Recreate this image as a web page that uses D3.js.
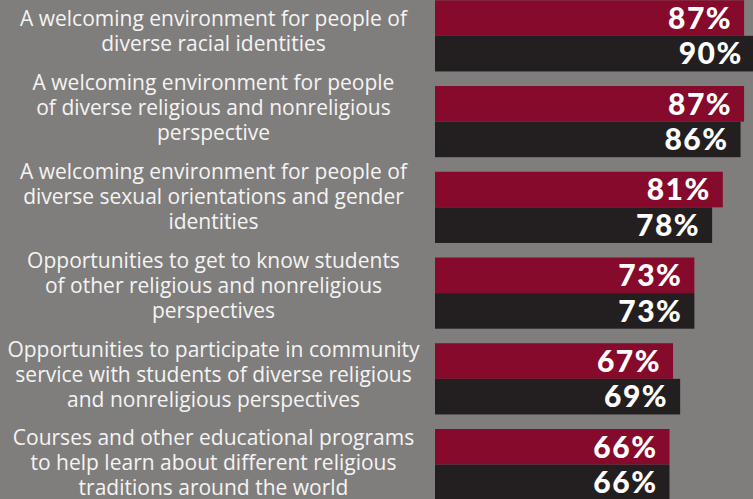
<!DOCTYPE html>
<html>
<head>
<meta charset="utf-8">
<script src="https://cdn.jsdelivr.net/npm/d3@7"></script>
<style>
  html, body { margin: 0; padding: 0; background: #807e7c; overflow: hidden; }
  svg { display: block; }
</style>
</head>
<body>
<div id="chart"></div>
<script>
// categories, already broken into the lines used in the picture
const categories = [
    ["A welcoming environment for people of", "diverse racial identities"],
    ["A welcoming environment for people", "of diverse religious and nonreligious", "perspective"],
    ["A welcoming environment for people of", "diverse sexual orientations and gender", "identities"],
    ["Opportunities to get to know students", "of other religious and nonreligious", "perspectives"],
    ["Opportunities to participate in community", "service with students of diverse religious", "and nonreligious perspectives"],
    ["Courses and other educational programs", "to help learn about different religious", "traditions around the world"]
];
const seriesNames = ["first", "second"];
const firstValues = [87, 87, 81, 73, 67, 66];
const secondValues = [90, 86, 78, 73, 69, 66];

const width = 753;
const height = 499;
const colors = { first: "#850a2b", second: "#231f20" };

const keys = categories.map((c, i) => i);

const svg = d3.select("#chart")
    .append("svg")
    .attr("width", width)
    .attr("height", height);

svg.append("rect")
    .attr("width", width)
    .attr("height", height)
    .attr("fill", "#807e7c");

// x scale: bars start at the left edge of the bar area
const x = d3.scaleLinear()
    .domain([0, 100])
    .range([435, 790.3]);

// one band per question, two sub bands per series
const y = d3.scaleBand()
    .domain(keys)
    .range([0.25, 500.2])
    .paddingInner(0.1697);

const ySub = d3.scaleBand()
    .domain(seriesNames)
    .range([0, y.bandwidth()]);

// labels sit bottom aligned in their slot
const labelY = d3.scalePoint()
    .domain(keys)
    .range([44, 488]);

const rows = keys.map(i => ({
    i: i,
    lines: categories[i],
    values: [
        { key: "first", value: firstValues[i] },
        { key: "second", value: secondValues[i] }
    ]
}));

const group = svg.append("g")
    .selectAll("g")
    .data(rows)
    .enter().append("g")
    .attr("transform", d => `translate(0,${y(d.i)})`);

group.selectAll("rect")
    .data(d => d.values)
    .enter().append("rect")
    .attr("x", x(0))
    .attr("y", d => ySub(d.key))
    .attr("width", d => x(d.value) - x(0))
    .attr("height", ySub.bandwidth())
    .attr("fill", d => colors[d.key]);

group.selectAll("text.value")
    .data(d => d.values)
    .enter().append("text")
    .attr("class", "value")
    .attr("x", d => x(d.value) - 12)
    .attr("y", d => ySub(d.key) + ySub.bandwidth() / 2)
    .attr("dy", "0.36em")
    .attr("text-anchor", "end")
    .attr("fill", "#ffffff")
    .style("font-family", "Lato, sans-serif")
    .style("font-weight", "900")
    .style("font-size", "30px")
    .style("letter-spacing", "1.5px")
    .text(d => d.value + "%");

// question labels
const labels = svg.append("g")
    .selectAll("text")
    .data(rows)
    .enter().append("text")
    .attr("text-anchor", "middle")
    .attr("fill", "#f4f4f4")
    .style("font-family", "'Open Sans', sans-serif")
    .style("font-size", "21px");

labels.selectAll("tspan")
    .data(d => d.lines.map((line, j) => ({ line: line, j: j, n: d.lines.length, i: d.i })))
    .enter().append("tspan")
    .attr("x", 213.5)
    .attr("y", d => labelY(d.i) - (d.n - 1 - d.j) * 25)
    .attr("dy", "0.35em")
    .text(d => d.line);
</script>
</body>
</html>
